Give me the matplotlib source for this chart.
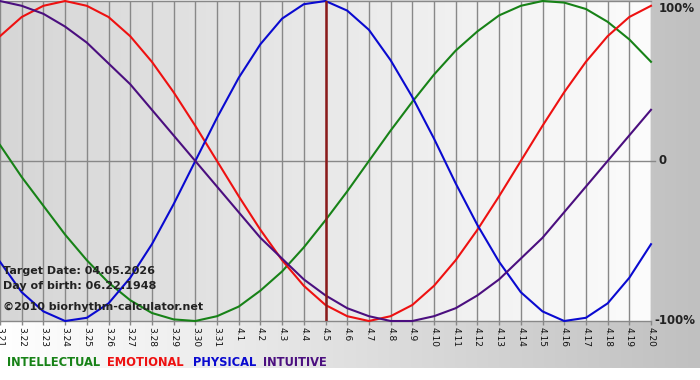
import numpy as np
import matplotlib
matplotlib.use("Agg")
import matplotlib.pyplot as plt
from matplotlib.colors import LinearSegmentedColormap

# dates shown along the bottom (3.21 .. 4.20)
days = ["3.%d" % d for d in range(21, 32)] + ["4.%d" % d for d in range(1, 21)]
target_day = "4.5"

# values, one per day, in -1..1
intellectual = [0.10, -0.10, -0.28, -0.46, -0.62, -0.76, -0.87, -0.95, -0.99, -1.00,
                -0.97, -0.91, -0.81, -0.69, -0.54, -0.37, -0.19, 0.00, 0.19, 0.37,
                0.54, 0.69, 0.81, 0.91, 0.97, 1.00, 0.99, 0.95, 0.87, 0.76, 0.62]
emotional = [0.78, 0.90, 0.97, 1.00, 0.97, 0.90, 0.78, 0.62, 0.43, 0.22,
             0.00, -0.22, -0.43, -0.62, -0.78, -0.90, -0.97, -1.00, -0.97, -0.90,
             -0.78, -0.62, -0.43, -0.22, 0.00, 0.22, 0.43, 0.62, 0.78, 0.90, 0.97]
physical = [-0.63, -0.82, -0.94, -1.00, -0.98, -0.89, -0.73, -0.52, -0.27, 0.00,
            0.27, 0.52, 0.73, 0.89, 0.98, 1.00, 0.94, 0.82, 0.63, 0.40,
            0.14, -0.14, -0.40, -0.63, -0.82, -0.94, -1.00, -0.98, -0.89, -0.73, -0.52]
intuitive = [1.00, 0.97, 0.92, 0.84, 0.74, 0.61, 0.48, 0.32, 0.16, 0.00,
             -0.16, -0.32, -0.48, -0.61, -0.74, -0.84, -0.92, -0.97, -1.00, -1.00,
             -0.97, -0.92, -0.84, -0.74, -0.61, -0.48, -0.32, -0.16, 0.00, 0.16, 0.32]

series = [("INTELLECTUAL", intellectual, "#178217"),
          ("EMOTIONAL", emotional, "#ee1111"),
          ("PHYSICAL", physical, "#0a0ad0"),
          ("INTUITIVE", intuitive, "#4b0f7f")]

W, H = 700, 380
fig = plt.figure(figsize=(W / 100, H / 100), dpi=100)

# outer background: white -> grey from left to right, white strip at the very bottom
bg = fig.add_axes([0, 0, 1, 1], zorder=-5)
grad = np.tile(np.linspace(0, 1, 256), (H, 1))
grad[368:, :] = 0
bg.imshow(grad, cmap=LinearSegmentedColormap.from_list("o", ["#ffffff", "#c0c0c0"]),
          aspect="auto", extent=[0, W, H, 0], interpolation="bilinear")
bg.set_xlim(0, W)
bg.set_ylim(H, 0)
bg.axis("off")

x0, x1, ytop, ybot = 0, 651, 1, 321
ax = fig.add_axes([x0 / W, 1 - ybot / H, (x1 - x0) / W, (ybot - ytop) / H])
x = np.arange(len(days))
ax.imshow(np.tile(np.linspace(0, 1, 256), (2, 1)),
          cmap=LinearSegmentedColormap.from_list("p", ["#d6d6d6", "#fcfcfc"]),
          aspect="auto", extent=[0, len(days) - 1, -1, 1], zorder=0)
ax.set_xlim(0, len(days) - 1)
ax.set_ylim(-1, 1)

for xi in x:
    ax.axvline(xi, color="#888888", lw=1, zorder=1)
ax.axhline(0, color="#888888", lw=1, zorder=1)
ax.plot([x[-1], x[-1] + 0.2], [0, 0], color="#888888", lw=1, clip_on=False)

for name, vals, col in series:
    ax.plot(x, vals, color=col, lw=1.5, zorder=3, clip_on=False)

ax.axvline(days.index(target_day), color="#8b1a1a", lw=1.8, zorder=4)

for s in ["left", "right"]:
    ax.spines[s].set_visible(False)
for s in ["top", "bottom"]:
    ax.spines[s].set_color("#888888")
    ax.spines[s].set_linewidth(1)
ax.set_yticks([])
ax.set_xticks(x)
ax.set_xticklabels(days, rotation=270, fontsize=6.5, color="#111111")
ax.tick_params(axis="x", length=3, width=1, color="#888888", pad=1)

# right-hand percentage labels
lab = dict(fontsize=8.5, fontweight="bold", color="#222222", va="center", ha="left",
           transform=ax.get_yaxis_transform(), clip_on=False)
ax.text(1.012, 0.955, "100%", **lab)
ax.text(1.012, 0.0, "0", **lab)
ax.text(1.005, -1.0, "-100%", **lab)

info = dict(fontsize=8.0, fontweight="bold", color="#222222", va="center", ha="left")
fig.text(3 / W, 1 - 271 / H, "Target Date: 04.05.2026", **info)
fig.text(3 / W, 1 - 286 / H, "Day of birth: 06.22.1948", **info)
fig.text(3 / W, 1 - 307 / H, "\u00a92010 biorhythm-calculator.net", **info)

lx = [7, 107, 193, 263]
for (name, vals, col), px in zip(series, lx):
    fig.text(px / W, 1 - 362 / H, name, fontsize=8.3, fontweight="bold",
             color=col, va="center", ha="left")

fig.savefig("out.png", dpi=100)
